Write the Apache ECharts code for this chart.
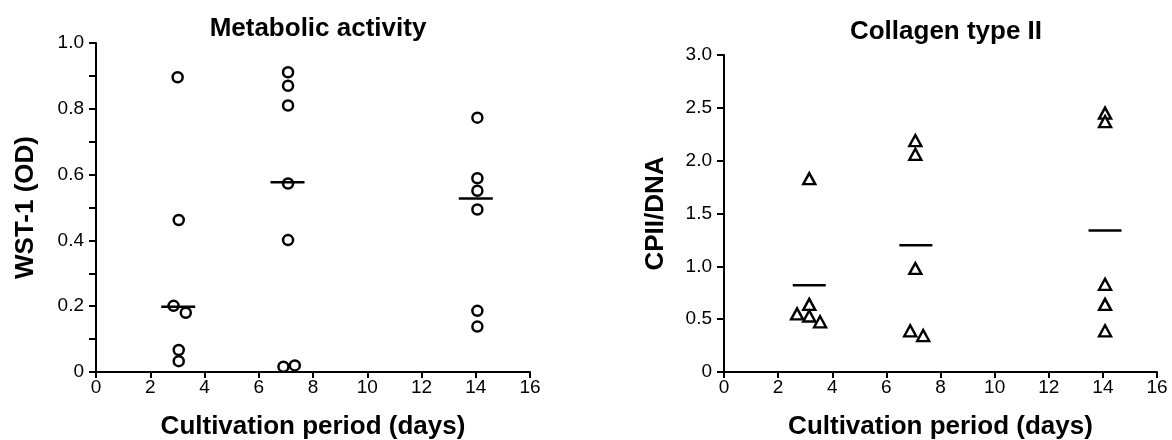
<!DOCTYPE html>
<html>
<head>
<meta charset="utf-8">
<script src="https://cdn.jsdelivr.net/npm/echarts@6/dist/echarts.min.js"></script>
<style>
html,body{margin:0;padding:0;background:#fff;}
#chart{width:1172px;height:440px;}
</style>
</head>
<body>
<div id="chart"></div>
<script>
// ---- data ----
const xTicks = [0, 2, 4, 6, 8, 10, 12, 14, 16];

const wstDays   = [3.01, 3.05, 2.86, 3.31, 3.05, 3.05, 7.08, 7.08, 7.08, 7.08, 7.08, 6.91, 7.33, 14.06, 14.06, 14.06, 14.06, 14.06, 14.06];
const wstValues = [0.896, 0.462, 0.201, 0.180, 0.067, 0.033, 0.911, 0.870, 0.810, 0.573, 0.401, 0.016, 0.020, 0.773, 0.589, 0.551, 0.494, 0.186, 0.138];
const wstMedianDays = [3.03, 7.06, 14.0];
const wstMedians    = [0.198, 0.577, 0.527];

const cpiiDays   = [3.15, 3.15, 2.70, 3.15, 3.55, 7.07, 7.07, 7.07, 6.88, 7.36, 14.08, 14.08, 14.08, 14.08, 14.08];
const cpiiValues = [1.83, 0.64, 0.55, 0.53, 0.475, 2.19, 2.06, 0.98, 0.39, 0.345, 2.45, 2.37, 0.83, 0.64, 0.39];
const cpiiMedianDays = [3.15, 7.09, 14.08];
const cpiiMedians    = [0.82, 1.20, 1.34];

const pairs = (xs, ys) => xs.map((x, i) => [x, ys[i]]);

const FONT = 'Liberation Sans, Arial, sans-serif';
const axisLineStyle = { color: '#000', width: 2 };
const nameStyle = { fontFamily: FONT, fontSize: 26, fontWeight: 'bold', color: '#000' };
const tickFont = { fontFamily: FONT, fontSize: 19, color: '#000' };

function xAxisFor(gridIndex) {
  return {
    gridIndex: gridIndex, type: 'value', min: 0, max: 16, interval: 2,
    name: 'Cultivation period (days)', nameLocation: 'middle', nameGap: 42,
    nameTextStyle: nameStyle,
    axisLine: { show: true, onZero: false, lineStyle: axisLineStyle },
    axisTick: { show: true, length: 6, lineStyle: axisLineStyle },
    axisLabel: Object.assign({ margin: 6,
      formatter: v => (xTicks.indexOf(v) >= 0 ? String(v) : '') }, tickFont),
    splitLine: { show: false }
  };
}

const option = {
  animation: false,
  backgroundColor: '#fff',
  title: [
    { text: 'Metabolic activity', left: 313, top: 11, textAlign: 'center',
      textStyle: { fontFamily: FONT, fontSize: 26, fontWeight: 'bold', color: '#000' } },
    { text: 'Collagen type II', left: 941, top: 14, textAlign: 'center',
      textStyle: { fontFamily: FONT, fontSize: 26, fontWeight: 'bold', color: '#000' } }
  ],
  grid: [
    { left: 96, right: 642, top: 43, bottom: 68, outerBoundsMode: 'none', containLabel: false },
    { left: 724, right: 15, top: 55, bottom: 68, outerBoundsMode: 'none', containLabel: false }
  ],
  xAxis: [xAxisFor(0), xAxisFor(1)],
  yAxis: [
    {
      gridIndex: 0, type: 'value', min: 0, max: 1, interval: 0.2,
      name: 'WST-1 (OD)', nameLocation: 'middle', nameGap: 57,
      nameTextStyle: nameStyle,
      axisLine: { show: true, lineStyle: axisLineStyle },
      axisTick: { show: true, length: 7, lineStyle: axisLineStyle },
      minorTick: { show: true, splitNumber: 2, length: 7, lineStyle: axisLineStyle },
      axisLabel: Object.assign({ margin: 12,
        formatter: v => (v === 0 ? '0' : v.toFixed(1)) }, tickFont),
      splitLine: { show: false }
    },
    {
      gridIndex: 1, type: 'value', min: 0, max: 3, interval: 0.5,
      name: 'CPII/DNA', nameLocation: 'middle', nameGap: 55,
      nameTextStyle: nameStyle,
      axisLine: { show: true, lineStyle: axisLineStyle },
      axisTick: { show: true, length: 7, lineStyle: axisLineStyle },
      axisLabel: Object.assign({ margin: 12,
        formatter: v => (v === 0 ? '0' : v.toFixed(1)) }, tickFont),
      splitLine: { show: false }
    }
  ],
  series: [
    {
      type: 'scatter', xAxisIndex: 0, yAxisIndex: 0,
      data: pairs(wstDays, wstValues),
      symbol: 'circle', symbolSize: 10,
      itemStyle: { color: '#fff', borderColor: '#000', borderWidth: 2.5, opacity: 1 },
      z: 2
    },
    {
      type: 'scatter', xAxisIndex: 0, yAxisIndex: 0,
      data: pairs(wstMedianDays, wstMedians),
      symbol: 'rect', symbolSize: [34, 2.5],
      itemStyle: { color: '#000', opacity: 1 },
      z: 3
    },
    {
      type: 'scatter', xAxisIndex: 1, yAxisIndex: 1,
      data: pairs(cpiiDays, cpiiValues),
      symbol: 'triangle', symbolSize: [12, 11],
      itemStyle: { color: '#fff', borderColor: '#000', borderWidth: 2.4, opacity: 1 },
      z: 2
    },
    {
      type: 'scatter', xAxisIndex: 1, yAxisIndex: 1,
      data: pairs(cpiiMedianDays, cpiiMedians),
      symbol: 'rect', symbolSize: [33, 2.5],
      itemStyle: { color: '#000', opacity: 1 },
      z: 3
    }
  ]
};

const chart = echarts.init(document.getElementById('chart'), null, { renderer: 'canvas' });
chart.setOption(option);
</script>
</body>
</html>
